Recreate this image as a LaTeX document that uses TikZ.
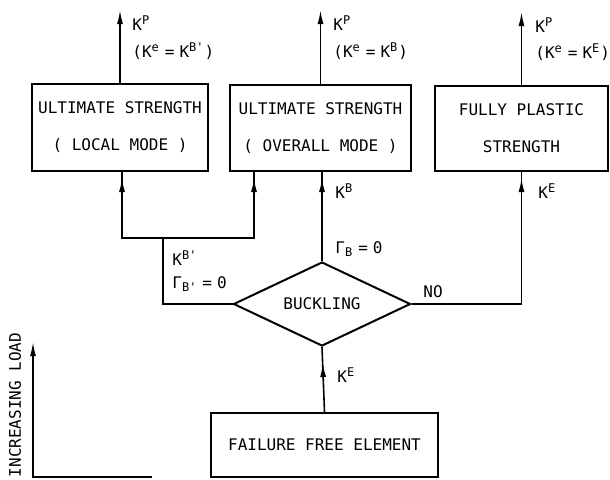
\documentclass[tikz,border=0pt]{standalone}
\usepackage{fontspec}
\setmonofont{DejaVu Sans Mono}
\usetikzlibrary{shapes.geometric,arrows.meta,decorations.markings}
\newcommand{\Kup}[1]{K\textsuperscript{#1}}
\newcommand{\eqs}{\hspace{2.5pt}=\hspace{2.5pt}}
\tikzset{
  stage/.style={draw, line width=1pt, inner sep=0pt, align=center,
    font=\ttfamily\fontsize{8}{18.5}\selectfont},
  test/.style={draw, diamond, line width=1pt, inner sep=0pt, aspect=2.1,
    minimum width=88.5pt, minimum height=42pt, font=\ttfamily\fontsize{8}{10}\selectfont},
  lab/.style={anchor=base west, inner sep=0pt, font=\ttfamily\fontsize{8}{10}\selectfont},
  flow/.style={line width=0.8pt},
  tipped/.style={flow, -{Latex[length=7pt,width=3pt]}},
  into/.style={flow, postaction={decorate}, decoration={markings,
    mark=at position -#1 with {\arrow{Latex[length=7pt,width=3pt]}}}},
  into/.default=3pt
}
\begin{document}
\begin{tikzpicture}[x=0.5pt, y=-0.5pt]
\useasboundingbox (0,0) rectangle (610,479);
% boxes
\node[stage, minimum width=88pt, minimum height=43.5pt] (loc) at (120,127.5) {ULTIMATE STRENGTH\\( LOCAL MODE )};
\node[stage, minimum width=90.5pt, minimum height=43pt] (ovr) at (320.5,128) {ULTIMATE STRENGTH\\( OVERALL MODE )};
\node[stage, minimum width=86.5pt, minimum height=42.5pt] (pla) at (521.5,128.5) {FULLY PLASTIC\\STRENGTH};
\node[test] (buck) at (322,304) {BUCKLING};
\node[stage, minimum width=113.5pt, minimum height=32pt] (free) at (324.5,445) {FAILURE FREE ELEMENT};
% free ends
\coordinate (locp) at (120,10);
\coordinate (ovrp) at (320.5,10);
\coordinate (plap) at (521.5,12);
\coordinate (bl) at (163,304);
\coordinate (jm) at (163,238);
\coordinate (jl) at (122,238);
\coordinate (jr) at (254,238);
\coordinate (br) at (521.5,304);
% outgoing loads
\draw[tipped] (loc.north) -- (locp);
\draw[tipped] (ovr.north) -- (ovrp);
\draw[tipped] (pla.north) -- (plap);
\node[lab] (locKp) at (132,30) {\Kup{P}};
\node[lab] (locKe) at (132,57) {(\Kup{e}\eqs\Kup{B'})};
\node[lab] (ovrKp) at (333,30) {\Kup{P}};
\node[lab] (ovrKe) at (333,57) {(\Kup{e}\eqs\Kup{B})};
\node[lab] (plaKp) at (535,32) {\Kup{P}};
\node[lab] (plaKe) at (535,58) {(\Kup{e}\eqs\Kup{E})};
% flow
\draw[into=8pt] (free.north) -- (buck.south);
\node[lab] (freeK) at (337,382) {\Kup{E}};
\draw[into] (buck.north) -- (buck.north |- ovr.south);
\node[lab] (gamB) at (335,253) {Γ\textsubscript{B}\eqs 0};
\node[lab] (ovrK) at (335,198) {\Kup{B}};
\draw[into] (buck.east) -- (br) -- (pla.south);
\node[lab] (no) at (423,297) {NO};
\node[lab] (plaK) at (538,198) {\Kup{E}};
\draw[flow] (buck.west) -- (bl) -- (jm);
\draw[into] (jm) -- (jl) -- (jl |- loc.south);
\draw[into] (jm) -- (jr) -- (jr |- ovr.south);
\node[lab] (locK) at (172,265) {\Kup{B'}};
\node[lab] (gamBb) at (172,288) {Γ\textsubscript{B'}\eqs 0};
% load axis
\coordinate (ax) at (33,477);
\coordinate (axtop) at (33,342);
\coordinate (axend) at (152,477);
\draw[flow, {Latex[length=7pt,width=3pt]}-] (axtop) -- (ax) -- (axend);
\node[font=\ttfamily\fontsize{8}{10}\selectfont, rotate=90, inner sep=0pt] (load) at (15,405) {INCREASING LOAD};
\end{tikzpicture}
\end{document}
